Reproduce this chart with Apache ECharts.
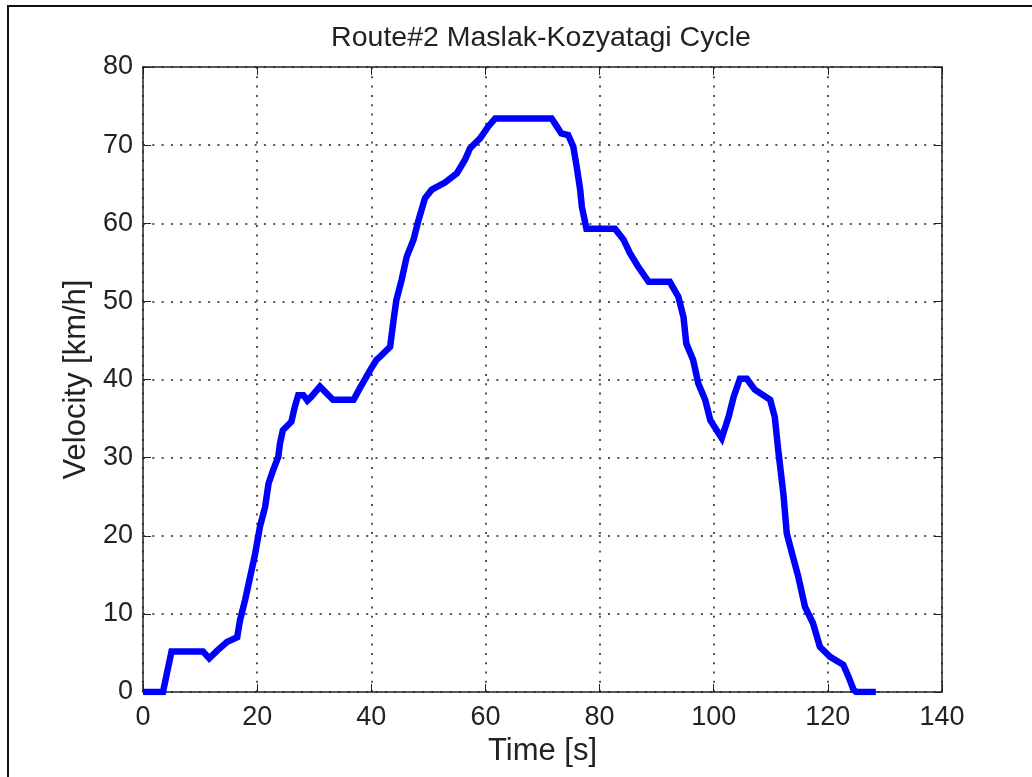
<!DOCTYPE html>
<html>
<head>
<meta charset="utf-8">
<script src="https://cdn.jsdelivr.net/npm/echarts@6/dist/echarts.min.js"></script>
<style>
  html, body { margin: 0; padding: 0; background: #fff; }
  #chart { width: 1032px; height: 777px; }
</style>
</head>
<body>
<div id="chart"></div>
<script>
// Drive cycle samples: time [s] and vehicle velocity [km/h]
const timeSec = [0, 3.5, 5, 10.5, 11.6, 13, 14.7, 16.5, 17, 17.9, 18.7, 19.6, 20.5, 21.4, 22.0, 22.8,
  23.7, 24.0, 24.5, 26.0, 26.6, 27.2, 28.1, 28.8, 29.5, 31.0, 32.2, 33.3, 36.9, 38.0, 39.8, 40.9,
  41.5, 43.3, 43.9, 44.4, 45.3, 46.2, 47.4, 48.2, 48.8, 49.4, 50.6, 52.9, 55.0, 56.4, 57.3, 59.1,
  60.5, 61.7, 71.6, 72.5, 73.3, 74.5, 75.4, 76.0, 76.6, 76.9, 77.7, 82.7, 84.2, 85.3, 86.8, 88.6,
  92.3, 93.8, 94.7, 95.2, 96.4, 97.3, 98.5, 99.4, 101.4, 102.6, 103.5, 104.6, 105.8, 107.2, 109.9,
  110.7, 111.3, 112.2, 112.8, 113.7, 114.8, 116.0, 117.4, 118.6, 120.4, 122.7, 123.6, 124.5, 125, 128.4];
const velocityKmh = [0, 0, 5.2, 5.2, 4.3, 5.3, 6.4, 7.0, 9.2, 11.8, 14.5, 17.5, 21.2, 23.7, 26.7, 28.4,
  30.1, 31.8, 33.5, 34.6, 36.5, 38.0, 38.0, 37.3, 37.8, 39.1, 38.2, 37.4, 37.4, 38.9, 41.2, 42.5,
  42.9, 44.2, 47.6, 50.2, 52.7, 55.7, 57.9, 60.2, 61.7, 63.2, 64.3, 65.2, 66.4, 68.1, 69.6, 70.9,
  72.4, 73.4, 73.4, 72.4, 71.5, 71.3, 69.8, 67.2, 64.3, 62.1, 59.3, 59.3, 57.9, 56.2, 54.4, 52.5,
  52.5, 50.6, 48.0, 44.6, 42.5, 39.5, 37.4, 34.8, 32.5, 35.2, 37.8, 40.1, 40.1, 38.7, 37.4,
  35.2, 31.0, 25.4, 20.3, 17.8, 14.8, 10.9, 8.8, 5.8, 4.5, 3.5, 2.0, 0.3, 0, 0];

const titleText = 'Route#2 Maslak-Kozyatagi Cycle';
const xName = 'Time [s]';
const yName = 'Velocity [km/h]';
const xRange = [0, 140, 20];
const yRange = [0, 80, 10];

const points = timeSec.map((t, i) => [t, velocityKmh[i]]);

const FONT = 'Liberation Sans, Arial, sans-serif';
const INK = '#222';
const GRID = { left: 143, top: 67, right: 90, bottom: 85 };

const tickStyle = { show: true, inside: true, length: 8, lineStyle: { color: INK, width: 1 } };
const boxLine = { show: true, onZero: false, lineStyle: { color: INK, width: 1.5 } };
const dottedGrid = { show: true, lineStyle: { color: '#555', width: 2, type: [2, 7.3] } };

const chart = echarts.init(document.getElementById('chart'), null, { renderer: 'canvas' });
chart.setOption({
  animation: false,
  backgroundColor: '#fff',
  grid: GRID,
  graphic: [
    {
      type: 'rect', z: 100, silent: true,
      shape: { x: 8, y: 6, width: 1100, height: 900 },
      style: { fill: 'none', stroke: '#111', lineWidth: 2 }
    },
    {
      type: 'text', z: 100, silent: true,
      x: 541, y: 24,
      style: { text: titleText, font: '28.5px ' + FONT, fill: INK, textAlign: 'center', textVerticalAlign: 'top' }
    }
  ],
  xAxis: [
    {
      type: 'value', position: 'bottom',
      min: xRange[0], max: xRange[1], interval: xRange[2],
      name: xName, nameLocation: 'middle', nameGap: 42,
      nameTextStyle: { fontFamily: FONT, fontSize: 31, color: INK },
      axisLine: boxLine, axisTick: tickStyle,
      axisLabel: { fontFamily: FONT, fontSize: 27, color: INK, margin: 12 },
      splitLine: dottedGrid
    },
    {
      type: 'value', position: 'top',
      min: xRange[0], max: xRange[1], interval: xRange[2],
      axisLine: boxLine, axisTick: tickStyle,
      axisLabel: { show: false }, splitLine: { show: false }
    }
  ],
  yAxis: [
    {
      type: 'value', position: 'left',
      min: yRange[0], max: yRange[1], interval: yRange[2],
      name: yName, nameLocation: 'middle', nameGap: 49,
      nameTextStyle: { fontFamily: FONT, fontSize: 31, color: INK },
      axisLine: boxLine, axisTick: tickStyle,
      axisLabel: { fontFamily: FONT, fontSize: 27, color: INK, margin: 10 },
      splitLine: dottedGrid
    },
    {
      type: 'value', position: 'right',
      min: yRange[0], max: yRange[1], interval: yRange[2],
      axisLine: boxLine, axisTick: tickStyle,
      axisLabel: { show: false }, splitLine: { show: false }
    }
  ],
  series: [
    {
      type: 'line',
      data: points,
      showSymbol: false,
      lineStyle: { color: '#0000ff', width: 6.5, join: 'miter' },
      z: 5
    }
  ]
});
</script>
</body>
</html>
